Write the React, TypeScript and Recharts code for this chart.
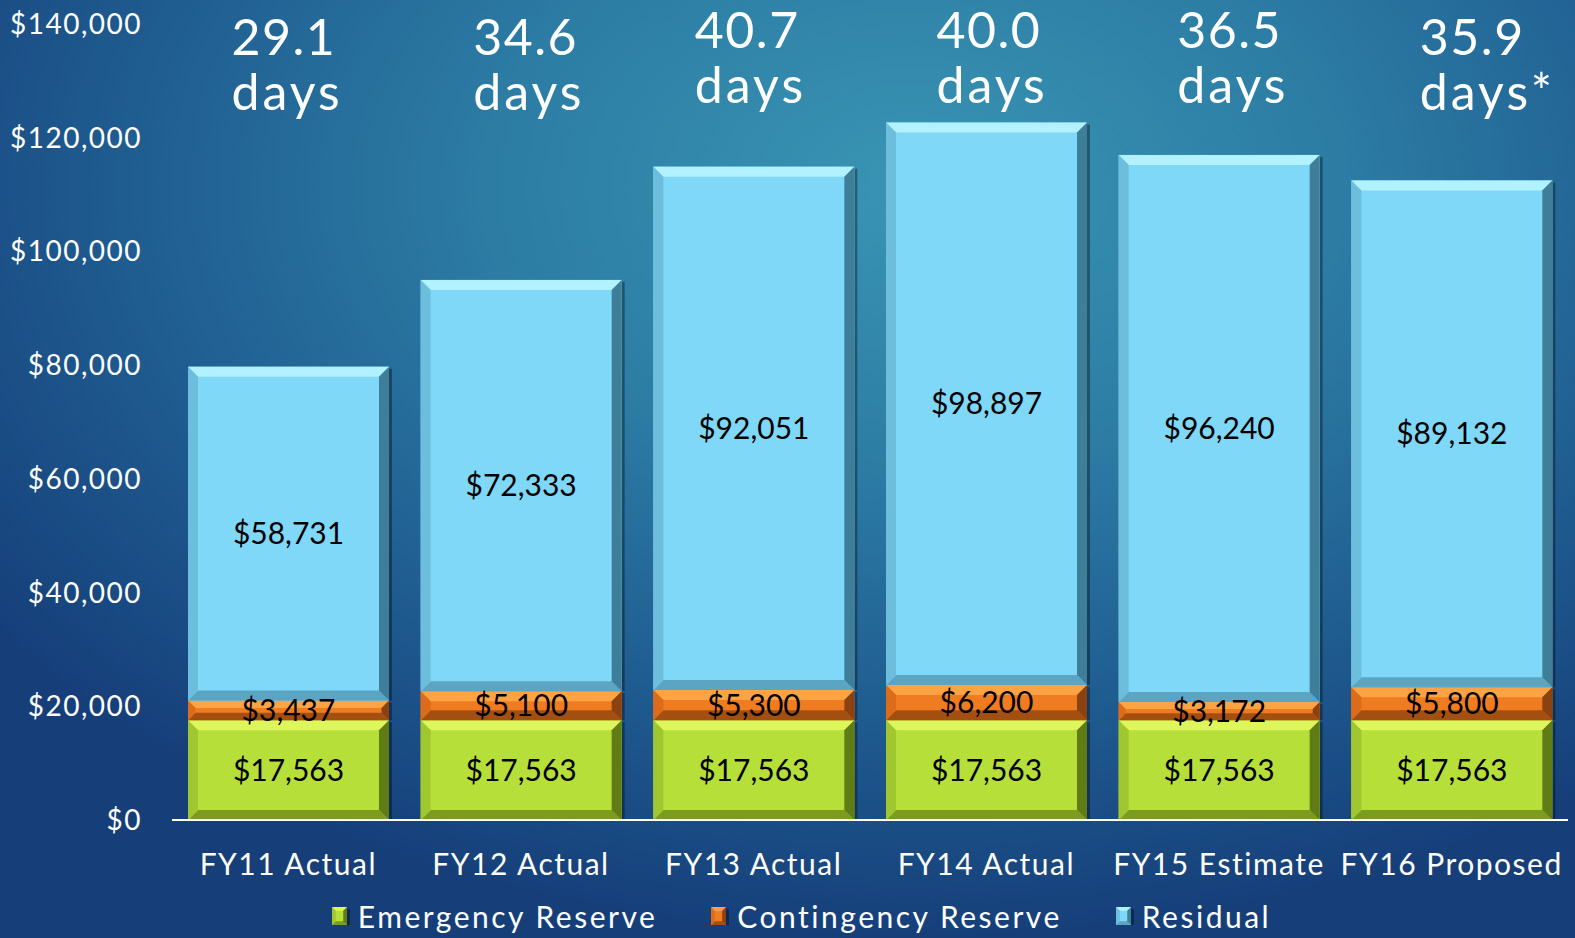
import React from 'react';
import { BarChart, Bar, XAxis, YAxis, Legend, LabelList } from 'recharts';

const categories = ['FY11 Actual', 'FY12 Actual', 'FY13 Actual', 'FY14 Actual', 'FY15 Estimate', 'FY16 Proposed'];
const emergency = [17563, 17563, 17563, 17563, 17563, 17563];
const contingency = [3437, 5100, 5300, 6200, 3172, 5800];
const residual = [58731, 72333, 92051, 98897, 96240, 89132];
const dayValues = ['29.1', '34.6', '40.7', '40.0', '36.5', '35.9'];
const dayUnits = ['days', 'days', 'days', 'days', 'days', 'days*'];
const yTicks = [0, 20000, 40000, 60000, 80000, 100000, 120000, 140000];

// small layout nudges for the "days" text boxes (they sit freely on the slide)
const dayDx = [-57, -48, -59, -50, -42, -32];
const dayDy = [0, 0, -7, -7, -7, 0];

const data = categories.map((name, i) => ({
  name,
  emergency: emergency[i],
  contingency: contingency[i],
  residual: residual[i],
}));

const FONT = "Lato, 'Noto Sans', sans-serif";

type Palette = { main: string; top: string; bottom: string; left: string; right: string };

const green: Palette = { main: '#b6df3a', top: '#ddf65c', bottom: '#7c9c1f', left: '#a0c72f', right: '#5f7c16' };
const orange: Palette = { main: '#f07c22', top: '#fca444', bottom: '#a44f12', left: '#dc6c1a', right: '#8a4210' };
const blue: Palette = { main: '#7fd8f8', top: '#b2f1ff', bottom: '#5ba5c3', left: '#6dbedd', right: '#3f7e99' };

const makeBevel = (p: Palette) => (props: any) => {
  const { x, y, width: w, height: h } = props;
  if (!h || h <= 0) return <g />;
  const b = Math.min(10, h / 2.6, w / 4);
  return (
    <g>
      <rect x={x + w} y={y + 2} width={3} height={h - 2} fill="rgba(0,0,0,0.35)" />
      <rect x={x} y={y} width={w} height={h} fill={p.main} />
      <polygon points={`${x},${y} ${x + w},${y} ${x + w - b},${y + b} ${x + b},${y + b}`} fill={p.top} />
      <polygon points={`${x},${y + h} ${x + w},${y + h} ${x + w - b},${y + h - b} ${x + b},${y + h - b}`} fill={p.bottom} />
      <polygon points={`${x},${y} ${x + b},${y + b} ${x + b},${y + h - b} ${x},${y + h}`} fill={p.left} />
      <polygon points={`${x + w},${y} ${x + w - b},${y + b} ${x + w - b},${y + h - b} ${x + w},${y + h}`} fill={p.right} />
    </g>
  );
};

const money = (v: any) => '$' + Number(v).toLocaleString('en-US');

const DaysLabel = (props: any) => {
  const { x, width, index } = props;
  const left = x + width / 2 + dayDx[index];
  const dy = dayDy[index];
  return (
    <text x={left} fill="#fff" fontSize={50} fontFamily={FONT} textAnchor="start" letterSpacing={1.5}>
      <tspan x={left} y={55 + dy}>{dayValues[index]}</tspan>
      <tspan x={left} y={110 + dy} letterSpacing={3}>{dayUnits[index]}</tspan>
    </text>
  );
};

const legendItems = [
  { label: 'Emergency Reserve', p: green },
  { label: 'Contingency Reserve', p: orange },
  { label: 'Residual', p: blue },
];

const LegendContent = () => (
  <div
    style={{
      display: 'flex',
      justifyContent: 'center',
      gap: 54,
      paddingLeft: 28,
      fontFamily: FONT,
      fontSize: 30,
      letterSpacing: 2.5,
      color: '#fff',
    }}
  >
    {legendItems.map((it) => (
      <div key={it.label} style={{ display: 'flex', alignItems: 'center' }}>
        <svg width={18} height={18} style={{ marginRight: 8 }}>
          {makeBevel(it.p)({ x: 0, y: 0, width: 15, height: 18 })}
        </svg>
        <span>{it.label}</span>
      </div>
    ))}
  </div>
);

export default function App() {
  return (
    <div
      style={{
        position: 'absolute',
        left: 0,
        top: 0,
        width: 1575,
        height: 938,
        background:
          'radial-gradient(ellipse 72% 80% at 58% 20%, #3995b3 0%, #2c7ca4 38%, #1f5c90 70%, #163f7a 100%)',
      }}
    >
      <BarChart width={1575} height={938} data={data} margin={{ top: 24, right: 7, bottom: 0, left: 0 }} barSize={201}>
        <YAxis
          width={172}
          domain={[0, 140000]}
          ticks={yTicks}
          tickFormatter={money}
          axisLine={false}
          tickLine={false}
          tickSize={0}
          tickMargin={30}
          tick={{ fill: '#fff', fontSize: 28, fontFamily: FONT, letterSpacing: 1.5 }}
        />
        <XAxis
          dataKey="name"
          height={118}
          axisLine={{ stroke: '#fff', strokeWidth: 2 }}
          tickLine={false}
          tickSize={0}
          tickMargin={34}
          interval={0}
          tick={{ fill: '#fff', fontSize: 30, fontFamily: FONT, letterSpacing: 1.5 }}
        />
        <Legend
          verticalAlign="middle"
          layout="horizontal"
          align="center"
          content={<LegendContent />}
          wrapperStyle={{ top: 898, left: 0, width: 1575 }}
        />
        <Bar dataKey="emergency" name="Emergency Reserve" stackId="a" fill={green.main} shape={makeBevel(green)} isAnimationActive={false}>
          <LabelList dataKey="emergency" position="center" formatter={money} fill="#000" fontSize={30} fontFamily={FONT} />
        </Bar>
        <Bar dataKey="contingency" name="Contingency Reserve" stackId="a" fill={orange.main} shape={makeBevel(orange)} isAnimationActive={false}>
          <LabelList dataKey="contingency" position="center" formatter={money} fill="#000" fontSize={30} fontFamily={FONT} />
        </Bar>
        <Bar dataKey="residual" name="Residual" stackId="a" fill={blue.main} shape={makeBevel(blue)} isAnimationActive={false}>
          <LabelList dataKey="residual" position="center" formatter={money} fill="#000" fontSize={30} fontFamily={FONT} />
          <LabelList dataKey="residual" content={<DaysLabel />} />
        </Bar>
      </BarChart>
    </div>
  );
}
